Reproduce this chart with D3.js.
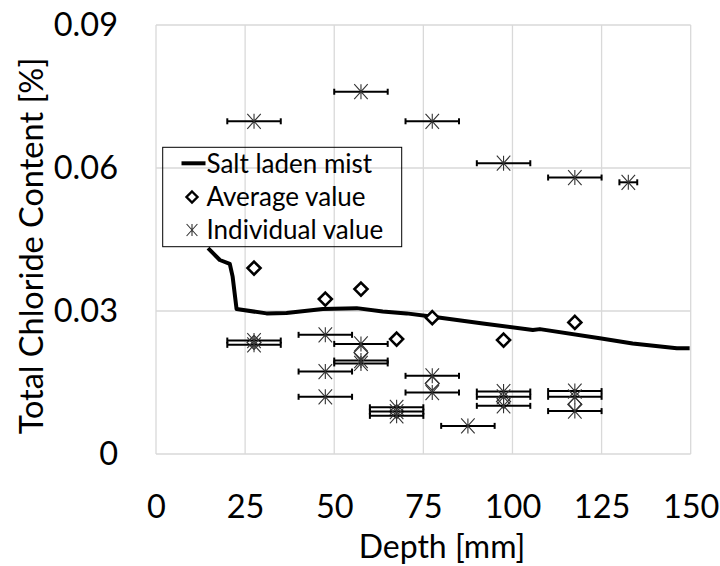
<!DOCTYPE html>
<html>
<head>
<meta charset="utf-8">
<script src="https://cdn.jsdelivr.net/npm/d3@7"></script>
<style>
  body { margin: 0; background: #fff; }
  svg { font-family: Lato, "Open Sans", sans-serif; }
</style>
</head>
<body>
<svg id="chart" width="720" height="566"></svg>
<script>
// salt laden mist profile
let mistDepth = [14.6, 17.9, 20.7, 21.5, 22.6, 31.0, 36.6, 46.8, 56.3, 63.6, 70.3, 77.7, 91.7, 105.7, 107.7, 124.5, 133.7, 146.1, 149.7]
let mistValue = [0.0432, 0.0407, 0.0399, 0.0372, 0.0304, 0.0295, 0.0296, 0.0304, 0.0306, 0.0299, 0.0295, 0.0288, 0.0274, 0.0260, 0.0262, 0.0243, 0.0232, 0.0222, 0.0222]

// average values
let avgDepth = [27.5, 47.5, 57.5, 67.5, 77.5, 97.5, 117.5]
let avgValue = [0.0390, 0.0325, 0.0346, 0.0241, 0.0286, 0.0239, 0.0276]
let lowAvgDepth = [27.5, 57.5, 67.5, 77.5, 97.5, 117.5]
let lowAvgValue = [0.0234, 0.0213, 0.0089, 0.0148, 0.0110, 0.0104]

// individual values with depth range (+/-)
let indDepth = [27.5, 27.5, 27.5, 47.5, 47.5, 47.5, 57.5, 57.5, 57.5, 57.5, 67.5, 67.5, 67.5, 77.5, 77.5, 77.5, 87.5, 97.5, 97.5, 97.5, 97.5, 117.5, 117.5, 117.5, 117.5, 132.5]
let indValue = [0.0698, 0.0238, 0.0229, 0.0250, 0.0173, 0.0120, 0.0760, 0.0231, 0.0196, 0.0190, 0.0098, 0.0089, 0.0080, 0.0698, 0.0164, 0.0129, 0.0059, 0.0610, 0.0131, 0.0120, 0.0101, 0.0580, 0.0132, 0.0120, 0.0090, 0.0570]
let indRange = [7.5, 7.5, 7.5, 7.5, 7.5, 7.5, 7.5, 7.5, 7.5, 7.5, 7.5, 7.5, 7.5, 7.5, 7.5, 7.5, 7.5, 7.5, 7.5, 7.5, 7.5, 7.5, 7.5, 7.5, 7.5, 2.5]

let xTicks = [0, 25, 50, 75, 100, 125, 150]
let yTicks = [0, 0.03, 0.06, 0.09]
let legendLabels = ["Salt laden mist", "Average value", "Individual value"]

let svg = d3.select('#chart')

let x = d3.scaleLinear().domain([0, 150]).range([156, 690.7])
let y = d3.scaleLinear().domain([0, 0.09]).range([454, 25])

// grid
svg.append("g")
  .selectAll("line.vg")
  .data(xTicks)
  .enter()
  .append("line")
  .attr("x1", d => x(d)).attr("x2", d => x(d))
  .attr("y1", y(0)).attr("y2", y(0.09))
  .attr("stroke", "#d9d9d9")
  .attr("stroke-width", 1.3)
svg.append("g")
  .selectAll("line.hg")
  .data(yTicks)
  .enter()
  .append("line")
  .attr("x1", x(0)).attr("x2", x(150))
  .attr("y1", d => y(d)).attr("y2", d => y(d))
  .attr("stroke", "#d9d9d9")
  .attr("stroke-width", 1.3)

// axes (labels only)
let xAxis = svg.append("g")
  .attr("transform", "translate(0," + y(0) + ")")
  .call(d3.axisBottom(x).tickValues(xTicks).tickSize(0).tickPadding(41).tickFormat(d3.format("d")))
let yAxis = svg.append("g")
  .attr("transform", "translate(" + x(0) + ",0)")
  .call(d3.axisLeft(y).tickValues(yTicks).tickSize(0).tickPadding(38).tickFormat(d => d === 0 ? "0" : d3.format(".2f")(d)))
svg.selectAll(".domain").remove()
svg.selectAll(".tick text")
  .attr("font-family", "Lato, sans-serif")
  .attr("font-size", 32.5)
  .attr("fill", "#000")

// axis titles
svg.append("text")
  .attr("x", 442).attr("y", 558)
  .attr("text-anchor", "middle")
  .attr("font-size", 32)
  .text("Depth [mm]")
svg.append("text")
  .attr("transform", "translate(43,246) rotate(-90)")
  .attr("text-anchor", "middle")
  .attr("font-size", 32.5)
  .text("Total Chloride Content [%]")

// mist line
let mist = mistDepth.map((d, i) => [d, mistValue[i]])
svg.append("path")
  .datum(mist)
  .attr("fill", "none")
  .attr("stroke", "#000")
  .attr("stroke-width", 4)
  .attr("stroke-linejoin", "round")
  .attr("d", d3.line().x(d => x(d[0])).y(d => y(d[1])))

function diamond(s) {
  return "M0," + (-s) + "L" + s + ",0L0," + s + "L" + (-s) + ",0Z"
}

// average diamonds
svg.append("g")
  .selectAll("path")
  .data(avgDepth.map((d, i) => [d, avgValue[i]]))
  .enter()
  .append("path")
  .attr("d", diamond(6.5))
  .attr("transform", d => "translate(" + x(d[0]) + "," + y(d[1]) + ")")
  .attr("fill", "#fff")
  .attr("stroke", "#000")
  .attr("stroke-width", 2.6)
svg.append("g")
  .selectAll("path")
  .data(lowAvgDepth.map((d, i) => [d, lowAvgValue[i]]))
  .enter()
  .append("path")
  .attr("d", diamond(7))
  .attr("transform", d => "translate(" + x(d[0]) + "," + y(d[1]) + ")")
  .attr("fill", "none")
  .attr("stroke", "#333")
  .attr("stroke-width", 1.2)

// individual values
let ind = indDepth.map((d, i) => ({ d: d, v: indValue[i], r: indRange[i] }))
let bars = svg.append("g").selectAll("g").data(ind).enter().append("g")
bars.append("line")
  .attr("x1", p => x(p.d - p.r)).attr("x2", p => x(p.d + p.r))
  .attr("y1", p => y(p.v)).attr("y2", p => y(p.v))
  .attr("stroke", "#000").attr("stroke-width", 2)
bars.append("line")
  .attr("x1", p => x(p.d - p.r)).attr("x2", p => x(p.d - p.r))
  .attr("y1", p => y(p.v) - 3).attr("y2", p => y(p.v) + 3)
  .attr("stroke", "#000").attr("stroke-width", 2)
bars.append("line")
  .attr("x1", p => x(p.d + p.r)).attr("x2", p => x(p.d + p.r))
  .attr("y1", p => y(p.v) - 3).attr("y2", p => y(p.v) + 3)
  .attr("stroke", "#000").attr("stroke-width", 2)

function star(s) {
  let k = s * 0.9
  return "M" + (-k) + "," + (-s) + "L" + k + "," + s +
    "M" + k + "," + (-s) + "L" + (-k) + "," + s +
    "M0," + (-s) + "L0," + s
}
svg.append("g")
  .selectAll("path")
  .data(ind)
  .enter()
  .append("path")
  .attr("d", star(7.5))
  .attr("transform", p => "translate(" + x(p.d) + "," + y(p.v) + ")")
  .attr("fill", "none")
  .attr("stroke", "#333")
  .attr("stroke-width", 1.1)

// legend
let lg = svg.append("g")
lg.append("rect")
  .attr("x", 162.7).attr("y", 147.3)
  .attr("width", 239).attr("height", 99.4)
  .attr("fill", "none")
  .attr("stroke", "#000")
  .attr("stroke-width", 1)
lg.append("line")
  .attr("x1", 181.5).attr("x2", 205.5)
  .attr("y1", 163.3).attr("y2", 163.3)
  .attr("stroke", "#000").attr("stroke-width", 4)
lg.append("path")
  .attr("d", diamond(5.5))
  .attr("transform", "translate(192,197)")
  .attr("fill", "#fff").attr("stroke", "#000").attr("stroke-width", 2.4)
lg.append("path")
  .attr("d", star(6))
  .attr("transform", "translate(192,230)")
  .attr("fill", "none").attr("stroke", "#333").attr("stroke-width", 1.1)
lg.selectAll("text")
  .data(legendLabels)
  .enter()
  .append("text")
  .attr("x", 206.5)
  .attr("y", (d, i) => 163.5 + i * 33.3)
  .attr("dy", "0.35em")
  .attr("font-size", 26)
  .text(d => d)
</script>
</body>
</html>
